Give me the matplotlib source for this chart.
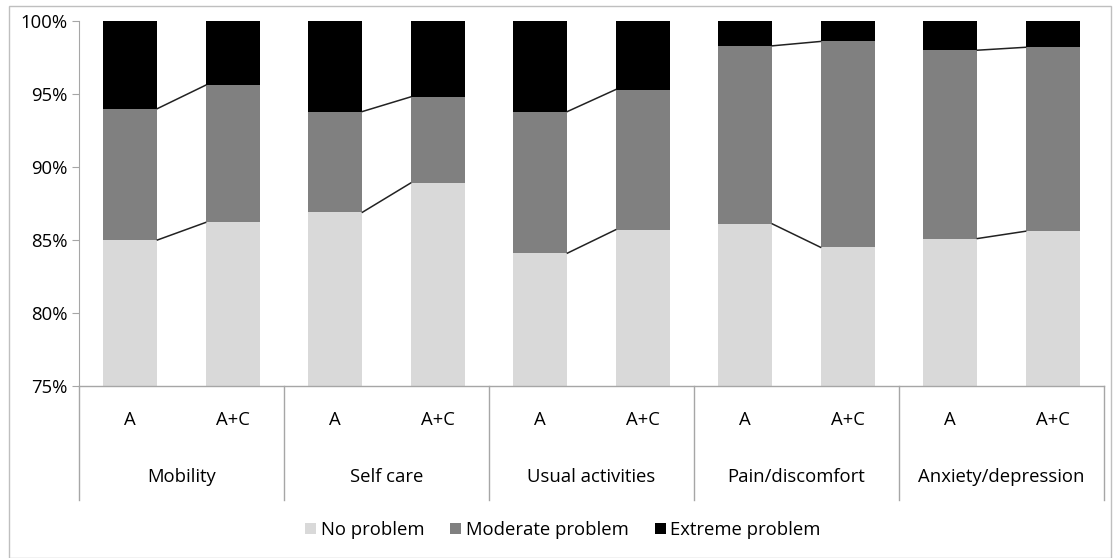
import numpy as np
import matplotlib.pyplot as plt
from matplotlib.patches import Rectangle, Patch

plt.rcParams['font.family'] = ['Open Sans', 'DejaVu Sans']

groups = ['Mobility', 'Self care', 'Usual activities', 'Pain/discomfort', 'Anxiety/depression']
arms = ['A', 'A+C']
# percentages, order per group: A, A+C
no_problem = [85.0, 86.2, 86.9, 88.9, 84.1, 85.7, 86.1, 84.5, 85.1, 85.6]
moderate_top = [94.0, 95.6, 93.8, 94.8, 93.8, 95.3, 98.3, 98.6, 98.0, 98.2]
extreme_top = [100.0] * 10

moderate = [m - n for m, n in zip(moderate_top, no_problem)]
extreme = [e - m for e, m in zip(extreme_top, moderate_top)]

colors = ['#D9D9D9', '#808080', '#000000']
labels = ['No problem', 'Moderate problem', 'Extreme problem']
fs = 13.3

fig = plt.figure(figsize=(11.15, 5.58), dpi=100)
ax = fig.add_axes([79 / 1115, 1 - 386 / 558, (1104 - 79) / 1115, (386 - 21) / 558])

x = np.arange(len(no_problem))
w = 0.53
ax.bar(x, no_problem, w, color=colors[0], zorder=2)
ax.bar(x, moderate, w, bottom=no_problem, color=colors[1], zorder=2)
ax.bar(x, extreme, w, bottom=moderate_top, color=colors[2], zorder=2)

# series lines inside each group
for g in range(len(groups)):
    i, j = 2 * g, 2 * g + 1
    for tops in (no_problem, moderate_top):
        ax.plot([x[i] + w / 2, x[j] - w / 2], [tops[i], tops[j]], color='#222222', lw=1.1, zorder=3)

ax.set_xlim(-0.5, len(no_problem) - 0.5)
ax.set_ylim(75, 100)
ax.set_yticks(np.arange(75, 101, 5))
ax.set_yticklabels([f'{v}%' for v in range(75, 101, 5)], fontsize=fs)
ax.tick_params(axis='y', length=5, color='#A6A6A6', pad=3)
ax.set_xticks([])
for s in ['top', 'right', 'bottom']:
    ax.spines[s].set_visible(False)
ax.spines['left'].set_color('#A6A6A6')

# multi-level category axis
trans = ax.get_xaxis_transform()
ax.plot([-0.5, len(no_problem) - 0.5], [0, 0], transform=trans, color='#A6A6A6', lw=1, clip_on=False)
for g in range(len(groups) + 1):
    ax.plot([2 * g - 0.5] * 2, [0, -114 / 365], transform=trans, color='#A6A6A6', lw=1, clip_on=False)
for k in range(len(no_problem)):
    ax.text(x[k], -34 / 365, arms[k % 2], transform=trans, ha='center', va='center', fontsize=fs)
for g, name in enumerate(groups):
    ax.text(2 * g + 0.5, -91 / 365, name, transform=trans, ha='center', va='center', fontsize=fs)

handles = [Patch(facecolor=c, edgecolor='none') for c in colors]
fig.legend(handles, labels, loc='center', bbox_to_anchor=(563 / 1115, 1 - 530 / 558), ncol=3,
           frameon=False, fontsize=fs, handlelength=0.6, handleheight=0.6, handletextpad=0.25,
           columnspacing=1.4)

fig.patches.append(Rectangle((9 / 1115, 0), (1111 - 9) / 1115, 1 - 6 / 558, transform=fig.transFigure,
                             fill=False, edgecolor='#BFBFBF', lw=1))

fig.savefig('out.png', dpi=100)
